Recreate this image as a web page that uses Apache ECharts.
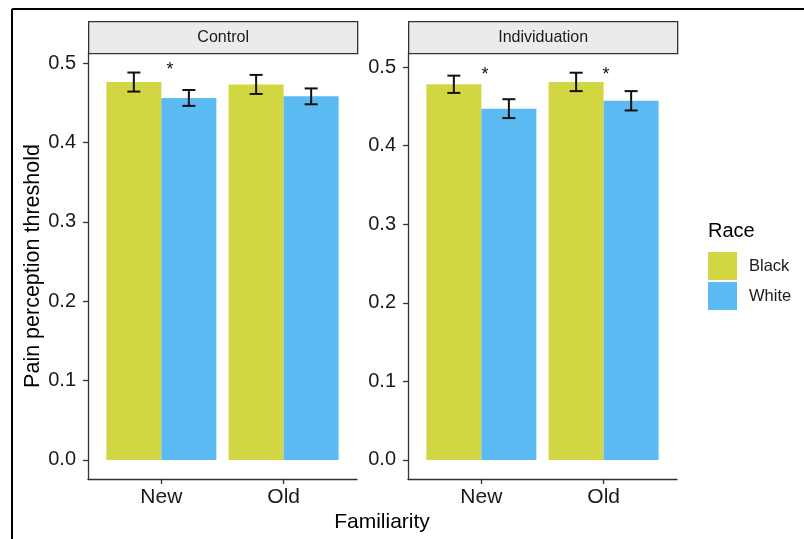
<!DOCTYPE html>
<html>
<head>
<meta charset="utf-8">
<script src="https://cdn.jsdelivr.net/npm/echarts@6/dist/echarts.min.js"></script>
<style>
html,body{margin:0;padding:0;background:#fff;}
#chart{width:804px;height:539px;}
</style>
</head>
<body>
<div id="chart"></div>
<script>
// ---- data ----
const panels = ['Control', 'Individuation'];
const familiarity = ['New', 'Old'];
const races = ['Black', 'White'];
const yTicks = [0, 0.1, 0.2, 0.3, 0.4, 0.5];

const controlBlack = [0.476, 0.473];
const controlWhite = [0.456, 0.458];
const controlBlackSE = [0.012, 0.012];
const controlWhiteSE = [0.010, 0.010];

const indivBlack = [0.478, 0.481];
const indivWhite = [0.447, 0.457];
const indivBlackSE = [0.011, 0.0117];
const indivWhiteSE = [0.012, 0.0123];

// significance markers: [x position (category units), y value]
const controlSig = [[1.07, 0.4953]];
const indivSig = [[1.03, 0.4936], [2.02, 0.4936]];

// ---- styling ----
const FONT = 'Liberation Sans';
const colors = { Black: '#D3D643', White: '#5CBAF2' };
const DODGE = 0.45;

function barSeries(name, gi, means) {
  const side = name === 'Black' ? -1 : 1;
  return {
    type: 'custom', name, xAxisIndex: gi, yAxisIndex: gi,
    itemStyle: { color: colors[name] },
    data: familiarity.map((f, i) => [i + 1, means[i]]),
    renderItem: (params, api) => {
      const x = api.value(0), y = api.value(1);
      const x0 = side < 0 ? x - DODGE : x;
      const x1 = side < 0 ? x : x + DODGE;
      const p0 = api.coord([x0, y]);
      const p1 = api.coord([x1, 0]);
      return { type: 'rect', shape: { x: p0[0], y: p0[1], width: p1[0] - p0[0], height: p1[1] - p0[1] },
               style: { fill: colors[name] } };
    }
  };
}
function errSeries(name, gi, means, ses) {
  const side = name === 'Black' ? -1 : 1;
  return {
    type: 'custom', name: name + ' SE', xAxisIndex: gi, yAxisIndex: gi, z: 5,
    data: familiarity.map((f, i) => [i + 1, means[i], ses[i]]),
    renderItem: (params, api) => {
      const x = api.value(0) + side * DODGE / 2, m = api.value(1), s = api.value(2);
      const top = api.coord([x, m + s]);
      const bot = api.coord([x, m - s]);
      const hw = 6.5;
      const st = { stroke: '#111', lineWidth: 2 };
      return { type: 'group', children: [
        { type: 'line', shape: { x1: top[0], y1: top[1], x2: bot[0], y2: bot[1] }, style: st },
        { type: 'line', shape: { x1: top[0] - hw, y1: top[1], x2: top[0] + hw, y2: top[1] }, style: st },
        { type: 'line', shape: { x1: bot[0] - hw, y1: bot[1], x2: bot[0] + hw, y2: bot[1] }, style: st }
      ]};
    }
  };
}
function sigSeries(gi, pts) {
  return {
    type: 'custom', name: 'sig' + gi, xAxisIndex: gi, yAxisIndex: gi, z: 6,
    data: pts,
    renderItem: (params, api) => {
      const p = api.coord([api.value(0), api.value(1)]);
      return { type: 'text', x: p[0], y: p[1] + 3,
        style: { text: '*', fill: '#111', font: '18px "' + FONT + '"', align: 'center', verticalAlign: 'middle' } };
    }
  };
}

const grids = [
  { left: 88, top: 53, width: 269, height: 426 },
  { left: 408, top: 53, width: 269, height: 426 }
];
const yRanges = [[-0.024, 0.5126], [-0.0242, 0.5178]];

const option = {
  animation: false,
  backgroundColor: '#fff',
  textStyle: { fontFamily: FONT },
  grid: grids,
  xAxis: grids.map((g, i) => ({
    type: 'value', gridIndex: i, min: 0.4, max: 2.6,
    axisLine: { show: true, onZero: false, lineStyle: { color: '#333', width: 1.3 } },
    axisTick: { show: true, customValues: [1, 2], length: 5, lineStyle: { color: '#333', width: 1.3 } },
    axisLabel: { customValues: [1, 2], formatter: v => familiarity[Math.round(v) - 1],
                 fontSize: 21, color: '#1a1a1a', margin: 8, fontFamily: FONT },
    splitLine: { show: false }
  })),
  yAxis: grids.map((g, i) => ({
    type: 'value', gridIndex: i, min: yRanges[i][0], max: yRanges[i][1],
    axisLine: { show: true, onZero: false, lineStyle: { color: '#333', width: 1.3 } },
    axisTick: { show: true, customValues: yTicks, length: 5, lineStyle: { color: '#333', width: 1.3 } },
    axisLabel: { customValues: yTicks, formatter: v => v.toFixed(1),
                 fontSize: 20, color: '#1a1a1a', margin: 12, fontFamily: FONT },
    splitLine: { show: false },
    name: i === 0 ? 'Pain perception threshold' : '',
    nameLocation: 'middle', nameRotate: 90, nameGap: 44,
    nameTextStyle: { fontSize: 21.5, color: '#000', fontFamily: FONT }
  })),
  legend: {
    data: races, orient: 'vertical', left: 708, top: 252,
    icon: 'rect', itemWidth: 29, itemHeight: 28, itemGap: 2, padding: 0,
    textStyle: { fontSize: 16.5, color: '#1a1a1a', fontFamily: FONT, padding: [0, 0, 0, 7] }
  },
  graphic: [
    { type: 'line', shape: { x1: 12, y1: 9, x2: 804, y2: 9 }, style: { stroke: '#000', lineWidth: 2 } },
    { type: 'line', shape: { x1: 12, y1: 9, x2: 12, y2: 539 }, style: { stroke: '#000', lineWidth: 2 } },
    ...grids.map((g, i) => ({
      type: 'group', left: g.left, top: 21,
      children: [
        { type: 'rect', shape: { x: 0, y: 0, width: g.width, height: 32 },
          style: { fill: '#EBEBEB', stroke: '#333', lineWidth: 1.3 } },
        { type: 'text', x: g.width / 2, y: 16,
          style: { text: panels[i], fill: '#1a1a1a', font: '16px "' + FONT + '"', align: 'center', verticalAlign: 'middle' } }
      ]
    })),
    { type: 'text', x: 382, y: 522,
      style: { text: 'Familiarity', fill: '#000', font: '21px "' + FONT + '"', align: 'center', verticalAlign: 'middle' } },
    { type: 'text', x: 708, y: 231,
      style: { text: 'Race', fill: '#000', font: '20px "' + FONT + '"', align: 'left', verticalAlign: 'middle' } }
  ],
  series: [
    barSeries('Black', 0, controlBlack),
    barSeries('White', 0, controlWhite),
    barSeries('Black', 1, indivBlack),
    barSeries('White', 1, indivWhite),
    errSeries('Black', 0, controlBlack, controlBlackSE),
    errSeries('White', 0, controlWhite, controlWhiteSE),
    errSeries('Black', 1, indivBlack, indivBlackSE),
    errSeries('White', 1, indivWhite, indivWhiteSE),
    sigSeries(0, controlSig),
    sigSeries(1, indivSig)
  ]
};

const chart = echarts.init(document.getElementById('chart'), null, { renderer: 'canvas' });
chart.setOption(option);
</script>
</body>
</html>
